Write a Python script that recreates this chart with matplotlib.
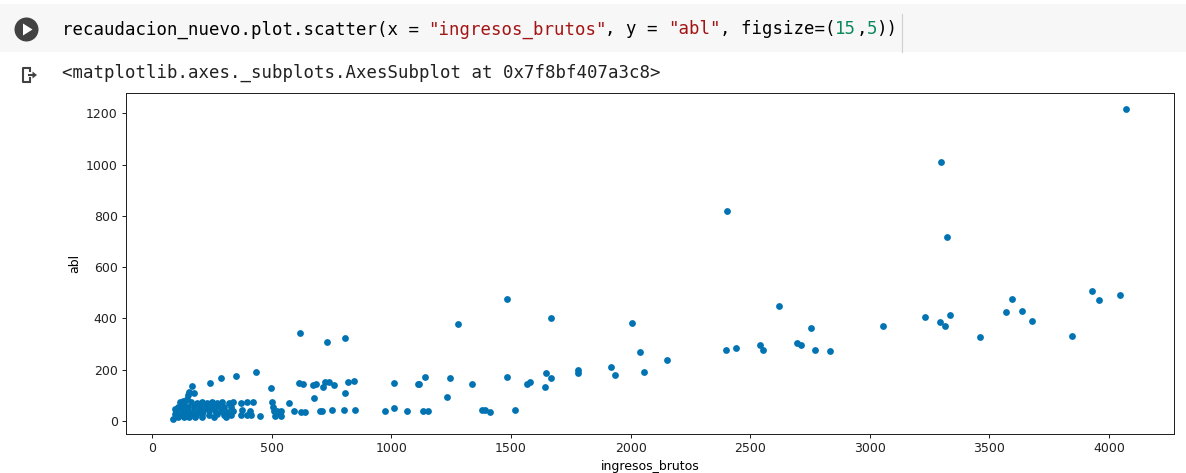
import matplotlib

matplotlib.use("Agg")
import matplotlib.pyplot as plt
from matplotlib.patches import Circle, Polygon, Rectangle

INGRESOS_BRUTOS = [
    117, 133, 161, 189, 209, 230, 251, 272, 293, 320, 339, 370, 397, 420, 500,
    110, 128, 150, 175, 200, 225, 250, 275, 300, 330, 506,
    100, 125, 145, 165, 190, 215, 240, 265, 290, 315, 340, 375, 410, 509, 523, 541,
    95, 120, 140, 160, 185, 210, 240, 270, 300, 330, 370, 397, 414, 522,
    110, 135, 155, 180, 210, 260, 310, 450, 513, 537, 89,
    95, 130, 145, 150, 154, 174, 168, 241, 289, 349, 436, 499,
    571, 592, 619, 613, 630, 623, 641, 671, 687, 676, 700, 711, 715, 724, 738,
    733, 751, 762, 801, 807, 808, 818, 843, 849, 975, 1010, 1010, 1066, 1110,
    1116, 1131, 1142, 1153, 1231, 1246, 1277, 1339, 1379, 1392, 1413, 1483,
    1483, 1518, 1569, 1580, 1643, 1647, 1669, 1669, 1780, 1780, 1920, 1933,
    2005, 2041, 2058, 2151, 2397, 2403, 2439, 2542, 2555, 2621, 2694, 2712,
    2754, 2769, 2832, 3056, 3230, 3295, 3296, 3313, 3322, 3334, 3459, 3568,
    3594, 3636, 3678, 3846, 3930, 3956, 4045, 4072,
]
ABL = [
    72, 70, 74, 70, 73, 71, 72, 70, 73, 71, 74, 70, 72, 72, 72,
    52, 56, 55, 53, 57, 55, 54, 56, 55, 53, 52,
    40, 38, 42, 36, 40, 37, 41, 38, 40, 36, 39, 42, 38, 39, 39, 39,
    25, 22, 27, 24, 22, 26, 23, 25, 22, 24, 22, 22, 22, 30,
    15, 14, 16, 13, 15, 16, 14, 20, 17, 19, 9,
    48, 78, 85, 100, 113, 108, 134, 147, 166, 173, 191, 128,
    69, 39, 341, 147, 142, 36, 34, 138, 142, 88, 39, 39, 132, 152, 152,
    307, 44, 138, 42, 322, 108, 152, 157, 43, 39, 147, 49, 39, 145,
    145, 39, 171, 39, 92, 166, 376, 145, 44, 44, 34, 474,
    171, 44, 145, 151, 132, 186, 166, 400, 198, 186, 210, 180,
    380, 269, 190, 239, 278, 819, 283, 295, 278, 449, 304, 297,
    361, 278, 274, 370, 405, 385, 1010, 370, 718, 414, 327, 424,
    477, 430, 391, 332, 507, 472, 493, 1218,
]

CODE_SEGMENTS = [
    ("recaudacion_nuevo.plot.scatter(x = ", "#000000"),
    ('"ingresos_brutos"', "#a31515"),
    (", y = ", "#000000"),
    ('"abl"', "#a31515"),
    (", figsize=(", "#000000"),
    ("15", "#09885a"),
    (",", "#000000"),
    ("5", "#09885a"),
    ("))", "#000000"),
]
OUTPUT_TEXT = "<matplotlib.axes._subplots.AxesSubplot at 0x7f8bf407a3c8>"

X_LABEL = "ingresos_brutos"
Y_LABEL = "abl"

W_PX, H_PX = 1186, 473
DPI = 100
MONO_FONT = "DejaVu Sans Mono"
MONO_SIZE = 12.5
CHAR_W = 0.602 * MONO_SIZE * DPI / 72
TEXT_X0 = 62
POINT_COLOR = "#0173b2"
ICON_COLOR = "#424242"


def _draw_page(ax):
    ax.set_xlim(0, W_PX)
    ax.set_ylim(H_PX, 0)
    ax.axis("off")

    ax.add_patch(Rectangle((0, 4), W_PX, 48, facecolor="#f7f7f7", edgecolor="none"))
    ax.plot([902, 902], [14, 52], color="#d0d0d0", linewidth=0.8)

    ax.add_patch(Circle((26.5, 29.5), 12, facecolor=ICON_COLOR, edgecolor="none"))
    ax.add_patch(Polygon([(23, 23.5), (23, 35.5), (32.5, 29.5)], closed=True, facecolor="white", edgecolor="none"))

    n = 0
    for seg, color in CODE_SEGMENTS:
        ax.text(TEXT_X0 + n * CHAR_W, 29.5, seg, family=MONO_FONT, fontsize=MONO_SIZE,
                color=color, ha="left", va="center")
        n += len(seg)

    lw = 1.5
    ax.plot([30, 23, 23, 30], [68, 68, 82, 82], color=ICON_COLOR, linewidth=lw, solid_capstyle="butt")
    ax.plot([30, 30], [68, 71.5], color=ICON_COLOR, linewidth=lw)
    ax.plot([30, 30], [78.5, 82], color=ICON_COLOR, linewidth=lw)
    ax.plot([28.5, 33], [75, 75], color=ICON_COLOR, linewidth=lw)
    ax.add_patch(Polygon([(32.5, 71.5), (32.5, 78.5), (37, 75)], closed=True, facecolor=ICON_COLOR, edgecolor="none"))

    ax.text(TEXT_X0, 73, OUTPUT_TEXT, family=MONO_FONT, fontsize=MONO_SIZE,
            color="#212121", ha="left", va="center")


def _draw_scatter(ax):
    ax.scatter(INGRESOS_BRUTOS, ABL, s=24, color=POINT_COLOR, linewidths=0, zorder=3)
    ax.set_xlabel(X_LABEL, fontsize=9, labelpad=3.5)
    ax.set_ylabel(Y_LABEL, fontsize=9, labelpad=3.5)
    ax.tick_params(labelsize=9, length=3.2, width=0.72, pad=2.6, colors="#222222")
    for spine in ax.spines.values():
        spine.set_linewidth(0.72)
        spine.set_color("#222222")


fig = plt.figure(figsize=(W_PX / DPI, H_PX / DPI), dpi=DPI, facecolor="white")
ax_page = fig.add_axes([0, 0, 1, 1], zorder=0)
_draw_page(ax_page)

left, right, top, bottom = 125.7, 1174, 93.3, 434
ax = fig.add_axes([left / W_PX, 1 - bottom / H_PX, (right - left) / W_PX, (bottom - top) / H_PX], zorder=1)
_draw_scatter(ax)

fig.savefig("out.png", dpi=DPI, facecolor="white")
